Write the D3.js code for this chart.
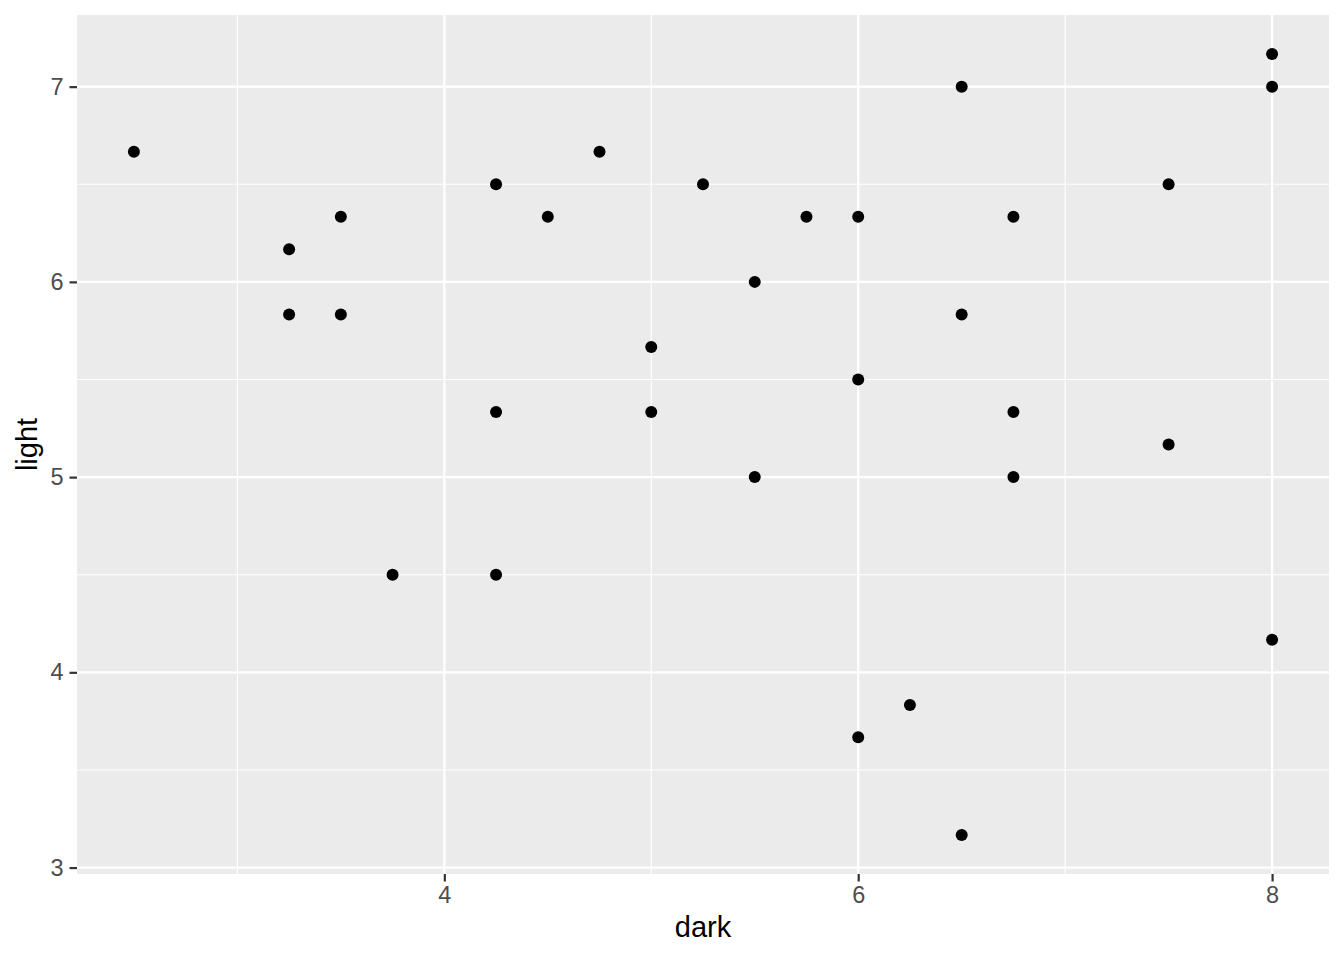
<!DOCTYPE html>
<html>
<head>
<meta charset="utf-8">
<script src="https://d3js.org/d3.v7.min.js"></script>
<style>
  body { margin: 0; background: white; }
  text { font-family: "Liberation Sans", Arial, sans-serif; }
</style>
</head>
<body>
<svg width="1344" height="960"></svg>
<script>
// data
const dark  = [2.5, 3.25, 3.25, 3.5, 3.5, 3.75, 4.25, 4.25, 4.25, 4.5, 4.75, 5, 5, 5.25, 5.5, 5.5,
               5.75, 6, 6, 6, 6.25, 6.5, 6.5, 6.5, 6.75, 6.75, 6.75, 7.5, 7.5, 8, 8, 8];
const light = [6.667, 6.167, 5.833, 6.333, 5.833, 4.5, 6.5, 5.333, 4.5, 6.333, 6.667, 5.667, 5.333, 6.5, 6, 5,
               6.333, 6.333, 5.5, 3.667, 3.833, 7, 5.833, 3.167, 6.333, 5.333, 5, 6.5, 5.167, 7.167, 7, 4.167];
const xTicks = [4, 6, 8];
const yTicks = [3, 4, 5, 6, 7];
const xMinor = [3, 5, 7];
const yMinor = [3.5, 4.5, 5.5, 6.5];

const svg = d3.select("svg");
const L = 77, R = 1329, T = 15, B = 874;

// ggplot style 5% expansion
const xe = (d3.max(dark) - d3.min(dark)) * 0.05;
const ye = (d3.max(light) - d3.min(light)) * 0.05;
const x = d3.scaleLinear().domain([d3.min(dark) - xe, d3.max(dark) + xe]).range([L, R]);
const y = d3.scaleLinear().domain([d3.min(light) - ye, d3.max(light) + ye]).range([B, T]);

svg.append("rect").attr("x", L).attr("y", T).attr("width", R - L).attr("height", B - T).attr("fill", "#EBEBEB");

const grid = svg.append("g");
grid.selectAll(".xmin").data(xMinor).enter().append("line")
  .attr("x1", d => x(d)).attr("x2", d => x(d)).attr("y1", T).attr("y2", B)
  .attr("stroke", "white").attr("stroke-width", 1.1);
grid.selectAll(".ymin").data(yMinor).enter().append("line")
  .attr("y1", d => y(d)).attr("y2", d => y(d)).attr("x1", L).attr("x2", R)
  .attr("stroke", "white").attr("stroke-width", 1.1);
grid.selectAll(".xmaj").data(xTicks).enter().append("line")
  .attr("x1", d => x(d)).attr("x2", d => x(d)).attr("y1", T).attr("y2", B)
  .attr("stroke", "white").attr("stroke-width", 2.2);
grid.selectAll(".ymaj").data(yTicks).enter().append("line")
  .attr("y1", d => y(d)).attr("y2", d => y(d)).attr("x1", L).attr("x2", R)
  .attr("stroke", "white").attr("stroke-width", 2.2);

// axes
const xAxis = svg.append("g").attr("transform", "translate(0," + B + ")")
  .call(d3.axisBottom(x).tickValues(xTicks).tickSize(7.5).tickPadding(5).tickFormat(d3.format("d")));
const yAxis = svg.append("g").attr("transform", "translate(" + L + ",0)")
  .call(d3.axisLeft(y).tickValues(yTicks).tickSize(7.5).tickPadding(6).tickFormat(d3.format("d")));
[xAxis, yAxis].forEach(a => {
  a.attr("font-size", 23.5).attr("font-family", "'Liberation Sans', Arial, sans-serif");
  a.select(".domain").remove();
  a.selectAll(".tick line").attr("stroke", "#333333").attr("stroke-width", 2.2);
  a.selectAll(".tick text").attr("fill", "#4D4D4D");
});

// points
svg.append("g").selectAll("circle")
  .data(dark.map((d, i) => [d, light[i]]))
  .enter().append("circle")
  .attr("cx", d => x(d[0])).attr("cy", d => y(d[1]))
  .attr("r", 6).attr("fill", "black");

// axis titles
svg.append("text").attr("x", (L + R) / 2).attr("y", 937).attr("text-anchor", "middle")
  .attr("font-size", 29).attr("fill", "black").text("dark");
svg.append("text").attr("transform", "translate(37," + ((T + B) / 2) + ") rotate(-90)")
  .attr("text-anchor", "middle").attr("font-size", 29).attr("fill", "black").text("light");
</script>
</body>
</html>
